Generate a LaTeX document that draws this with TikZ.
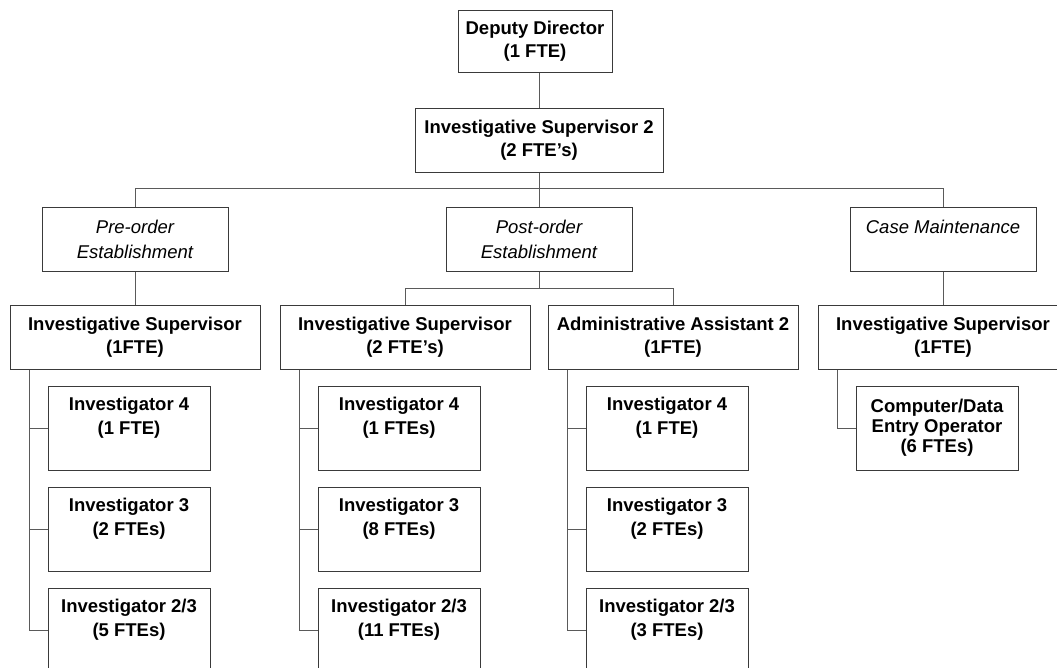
\documentclass[tikz,border=0pt]{standalone}
\usepackage{fontspec}
\setmainfont{Liberation Sans}
\usepackage{tikz}
\usetikzlibrary{positioning}
\definecolor{boxline}{HTML}{3A3A3A}
\definecolor{linkline}{HTML}{5A5A5A}

\begin{document}
\begin{tikzpicture}[
  x=1pt, y=-1pt,
  node distance=16pt and 17pt,
  role/.style={draw=boxline, line width=1pt, align=center, inner sep=0pt,
               font=\bfseries\fontsize{18.5}{23.5}\selectfont,
               minimum width=250pt, minimum height=64pt},
  unit/.style={role, font=\itshape\fontsize{18.5}{25}\selectfont,
               minimum width=186pt},
  staff/.style={role, font=\bfseries\fontsize{18.5}{24.5}\selectfont,
                minimum width=162pt, minimum height=84pt},
  link/.style={draw=linkline, line width=1pt}
]
\useasboundingbox (0,0) rectangle (1057,667);
\clip (0,0) rectangle (1057,667);

% top of the chart
\node[role, minimum width=154pt, minimum height=62pt] (dd) at (535,41)
  {Deputy Director\\(1 FTE)};
\node[role, below=35pt of dd, xshift=4pt, minimum width=248pt] (is2)
  {Investigative Supervisor 2\\(2 FTE's)};

% the three units
\node[unit, below=34pt of is2] (post) {Post-order\\Establishment};
\node[unit, left=217pt of post] (pre) {Pre-order\\Establishment};
\node[unit, right=217pt of post] (cm) {Case Maintenance\\\mbox{}};

% supervisors
\node[role, below=33pt of pre] (ispre) {Investigative Supervisor\\(1FTE)};
\node[role, below=33pt of post, xshift=-134pt] (ispost)
  {Investigative Supervisor\\(2 FTE's)};
\node[role, right=of ispost] (aa) {Administrative Assistant 2\\(1FTE)};
\node[role, below=33pt of cm] (iscm) {Investigative Supervisor\\(1FTE)};

% staff columns
\coordinate (spre) at ([xshift=20pt]ispre.south west);
\coordinate (spost) at ([xshift=20pt]ispost.south west);
\coordinate (saa) at ([xshift=20pt]aa.south west);
\coordinate (scm) at ([xshift=20pt]iscm.south west);

\node[staff, below right=16pt and 18pt of spre] (pre4) {Investigator 4\\(1 FTE)\\\mbox{}};
\node[staff, below=of pre4] (pre3) {Investigator 3\\(2 FTEs)\\\mbox{}};
\node[staff, below=of pre3] (pre23) {Investigator 2/3\\(5 FTEs)\\\mbox{}};

\node[staff, below right=16pt and 18pt of spost] (post4) {Investigator 4\\(1 FTEs)\\\mbox{}};
\node[staff, below=of post4] (post3) {Investigator 3\\(8 FTEs)\\\mbox{}};
\node[staff, below=of post3] (post23) {Investigator 2/3\\(11 FTEs)\\\mbox{}};

\node[staff, below right=16pt and 18pt of saa] (aa4) {Investigator 4\\(1 FTE)\\\mbox{}};
\node[staff, below=of aa4] (aa3) {Investigator 3\\(2 FTEs)\\\mbox{}};
\node[staff, below=of aa3] (aa23) {Investigator 2/3\\(3 FTEs)\\\mbox{}};

\node[staff, below right=16pt and 18pt of scm,
      font=\bfseries\fontsize{18.5}{20}\selectfont] (cdo)
  {Computer/Data\\Entry Operator\\(6 FTEs)};

% connectors
\draw[link] (is2.north) -- (is2.north |- dd.south);
\draw[link] (is2.south) -- (post.north);
\draw[link] (pre.north) -- ++(0,-18) -| (cm.north);
\draw[link] (pre.south) -- (ispre.north);
\coordinate (pbus) at ([yshift=-17pt]post.south);
\draw[link] (post.south) -- (pbus);
\draw[link] (ispost.north) |- (pbus) -| (aa.north);
\draw[link] (cm.south) -- (iscm.north);

\draw[link] (spre) |- (pre23.west);
\draw[link] (spre |- pre4.west) -- (pre4.west);
\draw[link] (spre |- pre3.west) -- (pre3.west);
\draw[link] (spost) |- (post23.west);
\draw[link] (spost |- post4.west) -- (post4.west);
\draw[link] (spost |- post3.west) -- (post3.west);
\draw[link] (saa) |- (aa23.west);
\draw[link] (saa |- aa4.west) -- (aa4.west);
\draw[link] (saa |- aa3.west) -- (aa3.west);
\draw[link] (scm) |- (cdo.west);
\end{tikzpicture}
\end{document}
